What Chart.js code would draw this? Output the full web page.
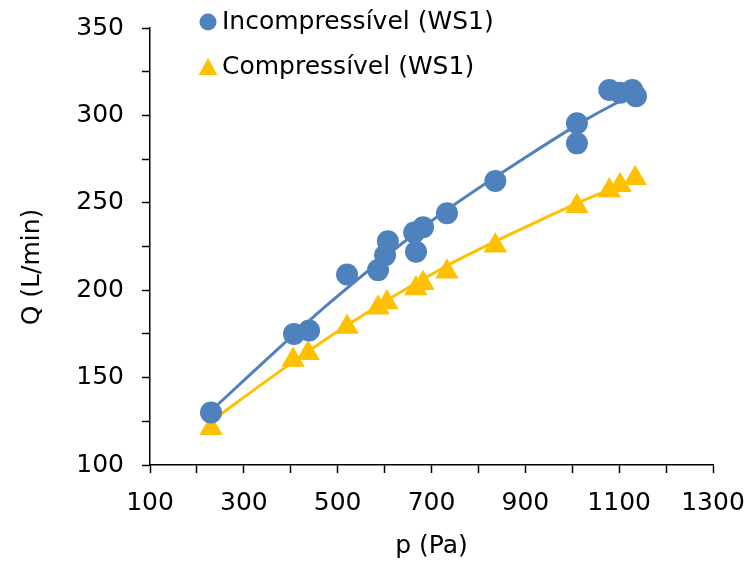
<!DOCTYPE html>
<html>
<head>
<meta charset="utf-8">
<script src="https://cdn.jsdelivr.net/npm/chart.js@4"></script>
<style>
  body { margin: 0; background: #fff; }
  #wrap { width: 747px; height: 565px; }
</style>
</head>
<body>
<div id="wrap"><canvas id="grafico"></canvas></div>
<script>
// Medições: pressão (Pa) x vazão (L/min)
const incompP = [230, 407, 439, 520, 586, 601, 607, 663, 667, 682, 733, 836, 1010, 1010, 1079, 1102, 1128, 1136];
const incompQ = [130, 175, 177, 209, 211.5, 220, 228, 233, 222, 236, 244, 262.5, 295.5, 284, 314.5, 313, 314.5, 311];
const compP = [230, 405, 437, 520, 586, 605, 667, 682, 733, 836, 1010, 1079, 1102, 1134];
const compQ = [121, 160, 164, 179, 190, 193, 201, 204, 210.5, 225.5, 248, 257, 260, 264];

// Linhas de tendência
const trendIncompP = [230, 400, 484, 697, 895, 1032, 1136];
const trendIncompQ = [131, 173, 193, 239, 275, 298, 313];
const trendCompP = [230, 384, 520, 733, 931, 1038, 1134];
const trendCompQ = [125, 155, 180, 214, 240, 253, 263];

const azul = '#4F81BD';
const amarelo = '#FFC000';
const fonte = "'DejaVu Sans', sans-serif";
const tam = 25;

const pontos = (xs, ys) => xs.map((x, i) => ({ x, y: ys[i] }));

// legenda e título do eixo Y desenhados à mão
const extras = {
  id: 'extras',
  afterDraw(chart) {
    const ctx = chart.ctx;
    ctx.save();
    ctx.font = tam + 'px ' + fonte;
    ctx.textBaseline = 'middle';
    ctx.textAlign = 'left';

    ctx.fillStyle = azul;
    ctx.beginPath();
    ctx.arc(208, 22, 8.5, 0, Math.PI * 2);
    ctx.fill();
    ctx.fillStyle = '#000';
    ctx.fillText('Incompressível (WS1)', 222, 22);

    ctx.fillStyle = amarelo;
    ctx.beginPath();
    ctx.moveTo(208, 58);
    ctx.lineTo(217.5, 75);
    ctx.lineTo(198.5, 75);
    ctx.closePath();
    ctx.fill();
    ctx.fillStyle = '#000';
    ctx.fillText('Compressível (WS1)', 222, 67);

    ctx.translate(32, 267);
    ctx.rotate(-Math.PI / 2);
    ctx.textAlign = 'center';
    ctx.fillText('Q (L/min)', 0, 0);
    ctx.restore();
  }
};

const ctx = document.getElementById('grafico').getContext('2d');
new Chart(ctx, {
  type: 'scatter',
  data: {
    datasets: [
      {
        label: 'Incompressível (WS1)',
        data: pontos(incompP, incompQ),
        pointStyle: 'circle',
        pointRadius: 11,
        backgroundColor: azul,
        borderWidth: 0
      },
      {
        label: 'Compressível (WS1)',
        data: pontos(compP, compQ),
        pointStyle: 'triangle',
        pointRadius: 13.5,
        backgroundColor: amarelo,
        borderWidth: 0
      },
      {
        label: 'tendência incompressível',
        data: pontos(trendIncompP, trendIncompQ),
        showLine: true,
        pointRadius: 0,
        borderColor: azul,
        borderWidth: 3,
        cubicInterpolationMode: 'monotone'
      },
      {
        label: 'tendência compressível',
        data: pontos(trendCompP, trendCompQ),
        showLine: true,
        pointRadius: 0,
        borderColor: amarelo,
        borderWidth: 3,
        cubicInterpolationMode: 'monotone'
      }
    ]
  },
  options: {
    responsive: true,
    maintainAspectRatio: false,
    animation: false,
    layout: { padding: { top: 28, right: 34, left: 0, bottom: 0 } },
    plugins: {
      legend: { display: false },
      tooltip: { enabled: false }
    },
    scales: {
      x: {
        type: 'linear',
        min: 100,
        max: 1300,
        afterFit: (s) => { s.height = 100; s.paddingLeft = 0; s.paddingRight = 0; },
        ticks: {
          stepSize: 100,
          autoSkip: false,
          maxRotation: 0,
          padding: 15,
          color: '#000',
          font: { family: fonte, size: tam },
          callback: (v) => ((v - 100) % 200 === 0 ? v : '')
        },
        grid: { drawOnChartArea: false, tickLength: 8, tickColor: '#000', tickWidth: 1.5 },
        border: { color: '#000', width: 1.5 },
        title: {
          display: true,
          text: 'p (Pa)',
          color: '#000',
          font: { family: fonte, size: tam },
          padding: { top: 10 }
        }
      },
      y: {
        min: 100,
        max: 350,
        afterFit: (s) => { s.width = 150; s.paddingTop = 0; s.paddingBottom = 0; },
        ticks: {
          stepSize: 25,
          autoSkip: false,
          padding: 18,
          color: '#000',
          font: { family: fonte, size: tam },
          callback: (v) => (v % 50 === 0 ? v : '')
        },
        grid: { drawOnChartArea: false, tickLength: 8, tickColor: '#000', tickWidth: 1.5 },
        border: { color: '#000', width: 1.5 }
      }
    }
  },
  plugins: [extras]
});
</script>
</body>
</html>
